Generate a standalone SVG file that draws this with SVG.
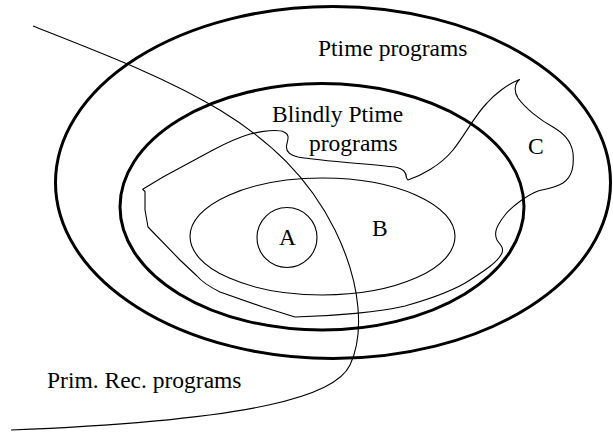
<svg xmlns="http://www.w3.org/2000/svg" width="613" height="434" viewBox="0 0 613 434">
<style>
.thick{fill:none;stroke:#000;stroke-width:3}
.thin{fill:none;stroke:#000;stroke-width:1.1;stroke-linejoin:round}
.lbl{font-family:'Liberation Serif','Times New Roman',serif;font-size:23.5px;fill:#000}
</style>
<rect width="613" height="434" fill="#fff"/>
<g id="ptime">
<ellipse class="thick" cx="333" cy="182.5" rx="277.5" ry="176"/>
<text class="lbl" x="318" y="56">Ptime programs</text>
</g>
<g id="blindly-ptime">
<ellipse class="thick" cx="322" cy="206.8" rx="202" ry="123.2"/>
<text class="lbl" x="272" y="122">Blindly Ptime</text>
<text class="lbl" x="309" y="150.5">programs</text>
</g>
<g id="region-c">
<path class="thin" d="M145,191.5 L142.7,189.3 L163,177 L213,150 C228,142 240,137 250,134 C262,131 278,129 284,132 C291,135 287,141 286.5,146 C286,151 289,155 298,157 C320,161 370,164 395,167 C404,169 406,172 406.5,178 L408,180 C420,176 440,166 453,150 C465,135 475,115 487,103 C495,94 508,84 519.5,79.5 C514,84 514,92 518,98 C525,108 540,120 553,127 C563,133 571,140 573,153 C574,165 573,176 563,183 C555,188 545,189 538,191 C528,195 513,205 505,215 C498,224 493,232 497,240 C500,245 504,247 502,253 C498,262 484,271 470,280 C455,290 437,297 405,306 C380,312 335,316 295,317 L263,307 L220,292 C210,287 203,283 197,276 L180,260 L148,227 L145,210 Z"/>
<text class="lbl" x="528" y="154">C</text>
</g>
<g id="region-b">
<ellipse class="thin" cx="322.5" cy="236.5" rx="132.5" ry="58.5"/>
<text class="lbl" x="372" y="236">B</text>
</g>
<g id="region-a">
<circle class="thin" cx="287" cy="237.5" r="30"/>
<text class="lbl" x="279" y="245">A</text>
</g>
<g id="connectors">
<path id="prim-rec-boundary" class="thin" d="M33,26 C170,80 280,120 335,230 C362,285 364,335 350,365 C336,395 260,420 11,430"/>
</g>
<g id="prim-rec">
<text class="lbl" x="47" y="388">Prim. Rec. programs</text>
</g>
</svg>
